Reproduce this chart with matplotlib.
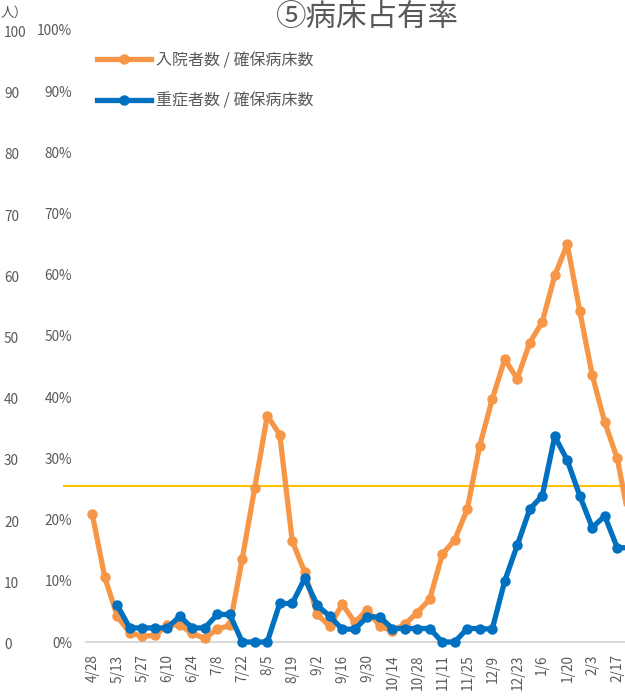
import matplotlib.pyplot as plt
from matplotlib.transforms import blended_transform_factory
from matplotlib.ticker import FuncFormatter

plt.rcParams['font.family'] = ['Noto Sans CJK JP', 'DejaVu Sans']

# 週ごとの集計日
fechas = ['4/28', '5/6', '5/13', '5/20', '5/27', '6/3', '6/10', '6/17', '6/24', '7/1',
          '7/8', '7/15', '7/22', '7/29', '8/5', '8/12', '8/19', '8/26', '9/2', '9/9',
          '9/16', '9/23', '9/30', '10/7', '10/14', '10/21', '10/28', '11/4', '11/11', '11/18',
          '11/25', '12/2', '12/9', '12/16', '12/23', '12/30', '1/6', '1/13', '1/20', '1/27',
          '2/3', '2/10', '2/17', '2/24']

# 入院者数 / 確保病床数 (%)
nyuin = [20.9, 10.6, 4.2, 1.5, 0.9, 1.1, 2.7, 2.8, 1.4, 0.6,
         2.1, 2.7, 13.6, 25.2, 37.0, 33.9, 16.5, 11.4, 4.5, 2.6,
         6.2, 3.2, 5.3, 2.6, 1.8, 2.9, 4.8, 7.0, 14.3, 16.7,
         21.7, 32.1, 39.7, 46.2, 43.0, 48.9, 52.3, 59.9, 65.0, 54.1,
         43.6, 35.9, 30.0, 19.5]

# 重症者数 / 確保病床数 (%)
jusho = [None, None, 6.0, 2.3, 2.3, 2.3, 2.3, 4.2, 2.3, 2.3,
         4.5, 4.5, 0.0, 0.0, 0.0, 6.3, 6.3, 10.4, 6.0, 4.2,
         2.1, 2.1, 4.1, 4.1, 2.2, 2.2, 2.2, 2.2, 0.0, 0.0,
         2.2, 2.2, 2.1, 10.0, 15.8, 21.7, 23.9, 33.6, 29.7, 23.9,
         18.7, 20.6, 15.4, 15.4]

nivel_ref = 25.5
escala_personas = [0, 10, 20, 30, 40, 50, 60, 70, 80, 90, 100]

W, H = 625, 698
fig = plt.figure(figsize=(W / 100, H / 100), dpi=100)
ax = fig.add_axes([86 / W, 56 / H, 1 - 86 / W, 612 / H])

gris = '#595959'
naranja = '#F79646'
azul = '#0070C0'

x = list(range(len(fechas)))
ax.plot(x, nyuin, color=naranja, lw=3.8, marker='o', ms=6.5, clip_on=False,
        label='入院者数 / 確保病床数', zorder=3)
xj = [i for i, v in zip(x, jusho) if v is not None]
yj = [v for v in jusho if v is not None]
ax.plot(xj, yj, color=azul, lw=3.8, marker='o', ms=6.5, clip_on=False,
        label='重症者数 / 確保病床数', zorder=4)
ax.plot([-2.3, 45], [nivel_ref, nivel_ref], color='#FFC000', lw=1.5, clip_on=False, zorder=2)

ax.set_xlim(-0.5, 42.62)
ax.set_ylim(0, 100)
ax.set_xticks(x[::2])
ax.set_xticklabels(fechas[::2], rotation=90, fontsize=9.8, color=gris)
ax.set_yticks(range(0, 101, 10))
ax.yaxis.set_major_formatter(FuncFormatter(lambda v, p: f'{int(v)}%'))
ax.tick_params(axis='y', length=0, pad=10, labelsize=9.8, labelcolor=gris)
ax.tick_params(axis='x', length=0, pad=9)

for s in ['top', 'right', 'left']:
    ax.spines[s].set_visible(False)
ax.spines['bottom'].set_color('#D9D9D9')
ax.spines['bottom'].set_linewidth(1.5)

# 人数の目盛り
tr = blended_transform_factory(fig.transFigure, ax.transData)
for v in escala_personas:
    ax.text(4 / W, v - 0.5, str(v), transform=tr, ha='left', va='center',
            fontsize=9.8, color=gris, clip_on=False)
fig.text(1 / W, 1 - 13 / H, '人）', ha='left', va='center', fontsize=9.8, color=gris)

fig.text(367 / W, 1 - 18 / H, '⑤病床占有率', ha='center', va='center', fontsize=22, color=gris)

ax.legend(loc='upper left', bbox_to_anchor=(97 / W, 1 - 52 / H), bbox_transform=fig.transFigure,
          frameon=False, fontsize=11.5, handlelength=3.4, handletextpad=0.3,
          labelspacing=1.45, borderpad=0, borderaxespad=0, labelcolor=gris)

fig.savefig('out.png', dpi=100)
